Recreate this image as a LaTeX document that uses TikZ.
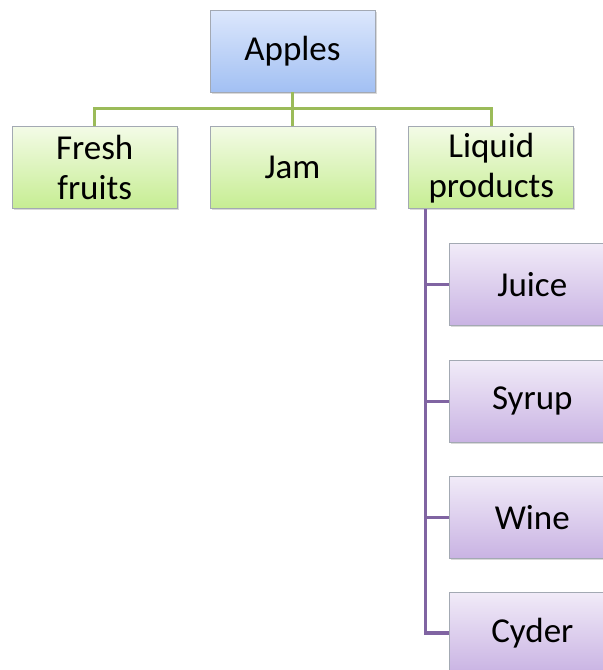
\documentclass[tikz,border=0pt]{standalone}
\usepackage{fontspec}
\setmainfont{Carlito}
\usetikzlibrary{positioning,shadows}
\definecolor{bluetop}{HTML}{DCE7FC}
\definecolor{bluebot}{HTML}{A2C0F3}
\definecolor{greentop}{HTML}{F3FBE6}
\definecolor{greenbot}{HTML}{C6ED92}
\definecolor{violettop}{HTML}{F1EBF8}
\definecolor{violetbot}{HTML}{C9B3E3}
\definecolor{boxline}{HTML}{A3A9B3}
\definecolor{greenline}{HTML}{9BBB59}
\definecolor{violetline}{HTML}{8064A2}

\begin{document}
\begin{tikzpicture}[x=1pt,y=-1pt]
	\tikzset{
		box/.style = {rectangle, draw=boxline, line width=0.8pt, inner sep=0pt,
			minimum width=165pt, minimum height=82pt, align=center,
			font=\fontsize{35}{40}\selectfont,
			drop shadow={shadow xshift=1.5pt, shadow yshift=-1.5pt, opacity=0.3}},
		rootbox/.style = {box, top color=bluetop, bottom color=bluebot},
		itembox/.style = {box, top color=greentop, bottom color=greenbot},
		subbox/.style = {box, top color=violettop, bottom color=violetbot},
		greenlink/.style = {draw=greenline, line width=3.3pt},
		violetlink/.style = {draw=violetline, line width=3.3pt}
	}
	\useasboundingbox (0,0) rectangle (603,670);
	\clip (0,0) rectangle (603,670);

	\node[rootbox] (apples) at (292.5,51) {Apples};
	\node[itembox, below=34pt of apples] (jam) {Jam};
	\node[itembox, left=32pt of jam] (fresh) {Fresh\\fruits};
	\node[itembox, right=33pt of jam] (liquid) {Liquid\\products};
	\node[subbox, below right=34pt and 41pt of liquid.south west, anchor=north west] (juice) {Juice};
	\node[subbox, below=34pt of juice] (syrup) {Syrup};
	\node[subbox, below=33pt of syrup] (wine) {Wine};
	\node[subbox, below=33pt of wine] (cyder) {Cyder};

	\coordinate (bus) at ([yshift=-16pt]apples.south);
	\coordinate[right=17pt of liquid.south west] (trunk);

	\draw[greenlink] (apples.south) -- (bus);
	\draw[greenlink] (bus) -| (fresh.north);
	\draw[greenlink] (bus) -- (jam.north);
	\draw[greenlink] (bus) -| (liquid.north);
	\draw[violetlink] (trunk) |- (juice.west);
	\draw[violetlink] (trunk) |- (syrup.west);
	\draw[violetlink] (trunk) |- (wine.west);
	\draw[violetlink] (trunk) |- (cyder.west);
\end{tikzpicture}
\end{document}
